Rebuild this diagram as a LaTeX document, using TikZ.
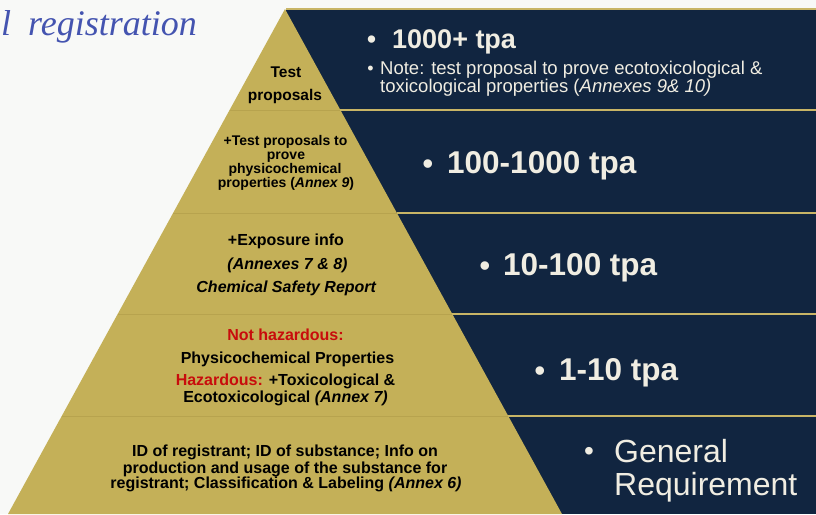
\documentclass[tikz,border=0pt]{standalone}
\usepackage{fontspec}
\setmainfont{Liberation Sans}
\newfontfamily\titlefont{Liberation Serif}
\definecolor{navy}{RGB}{17,37,64}
\definecolor{gold}{RGB}{196,176,88}
\definecolor{goldline}{RGB}{200,181,102}
\definecolor{sepdark}{RGB}{183,163,78}
\definecolor{cream}{RGB}{240,237,226}
\definecolor{bgc}{RGB}{248,249,247}
\definecolor{titleblue}{RGB}{68,84,176}
\definecolor{hazred}{RGB}{200,12,12}
\begin{document}
\begin{tikzpicture}[x=1pt,y=-1pt,
  pyr/.style={font=\bfseries\fontsize{#1}{#1}\selectfont, text=black, inner sep=0pt, anchor=base},
  pyr/.default=16,
  big/.style={font=\bfseries\fontsize{#1}{#1}\selectfont, text=cream, inner sep=0pt, anchor=base west},
  reg/.style={font=\fontsize{#1}{#1}\selectfont, text=cream, inner sep=0pt, anchor=base west},
  bul/.style={font=\fontsize{#1}{#1}\selectfont, text=cream, inner sep=0pt, anchor=base},
  title/.style={font=\titlefont\itshape\fontsize{36}{36}\selectfont, text=titleblue, inner sep=0pt, anchor=base east},
  goldrule/.style={draw=goldline, line width=1.5pt},
  seprule/.style={draw=sepdark, line width=1pt}]
\useasboundingbox (0,0) rectangle (816,514);
\fill[bgc] (0,0) rectangle (816,514);
\fill[navy] (286,9) rectangle (816,514);
\draw[goldrule] (286,9) -- (816,9);
\coordinate (apex) at (285,9);
\coordinate (bl) at (8,514);
\coordinate (br) at (562,514);
\fill[gold] (apex) -- (br) -- (bl) -- cycle;
\foreach \yy in {110,213,314,416} {
  \pgfmathsetmacro\xl{285-0.5485*(\yy-9)}
  \pgfmathsetmacro\xr{285+0.5485*(\yy-9)}
  \draw[seprule] (\xl,\yy) -- (\xr,\yy);
  \draw[goldrule] (\xr,\yy) -- (816,\yy);
}
% title
\node[title] (title) at (197,35) {l \hspace{8pt}registration};
% pyramid texts
\node[pyr=15.5] (p1a) at (286,77) {Test};
\node[pyr=15.5] (p1b) at (285,100) {proposals};
\node[pyr=14] (p2a) at (285.5,145) {+Test proposals to};
\node[pyr=14] (p2b) at (286,159) {prove};
\node[pyr=14] (p2c) at (285,173) {physicochemical};
\node[pyr=14] (p2d) at (286,187) {properties (\textit{Annex 9})};
\node[pyr] (p3a) at (286,245) {+Exposure info};
\node[pyr] (p3b) at (287.5,269) {\textit{(Annexes 7 \& 8)}};
\node[pyr] (p3c) at (286.5,292) {\textit{Chemical Safety Report}};
\node[pyr, text=hazred] (p4a) at (285.5,340) {Not hazardous:};
\node[pyr] (p4b) at (287.5,363) {Physicochemical Properties};
\node[pyr] (p4c) at (285.5,385) {{\color{hazred}Hazardous:} +Toxicological \&};
\node[pyr] (p4d) at (285.5,402) {Ecotoxicological \textit{(Annex 7)}};
\node[pyr] (p5a) at (285,456) {ID of registrant; ID of substance; Info on};
\node[pyr] (p5b) at (285,473) {production and usage of the substance for};
\node[pyr] (p5c) at (286,488) {registrant; Classification \& Labeling \textit{(Annex 6)}};
% right side
\node[bul=27] (b1) at (371.5,48.5) {•};
\node[big=27] (r1) at (392,48) {1000+ tpa};
\node[bul=18] (b1n) at (370.5,74) {•};
\node[reg=18.5] (n1) at (380,74) {Note: test proposal to prove ecotoxicological \&};
\node[reg=18.5] (n2) at (380,92) {toxicological properties (\textit{Annexes 9\& 10)}};
\node[bul=31.5] (b2) at (428,174) {•};
\node[big=31.5] (r2) at (447,173.5) {100-1000 tpa};
\node[bul=31.5] (b3) at (485,276) {•};
\node[big=31.5] (r3) at (503,275.5) {10-100 tpa};
\node[bul=31.5] (b4) at (540,381) {•};
\node[big=31.5] (r4) at (559,380.5) {1-10 tpa};
\node[bul=28] (b5) at (589,460.5) {•};
\node[reg=32] (r5a) at (614,462) {General};
\node[reg=32] (r5b) at (614,495) {Requirement};
\end{tikzpicture}
\end{document}
